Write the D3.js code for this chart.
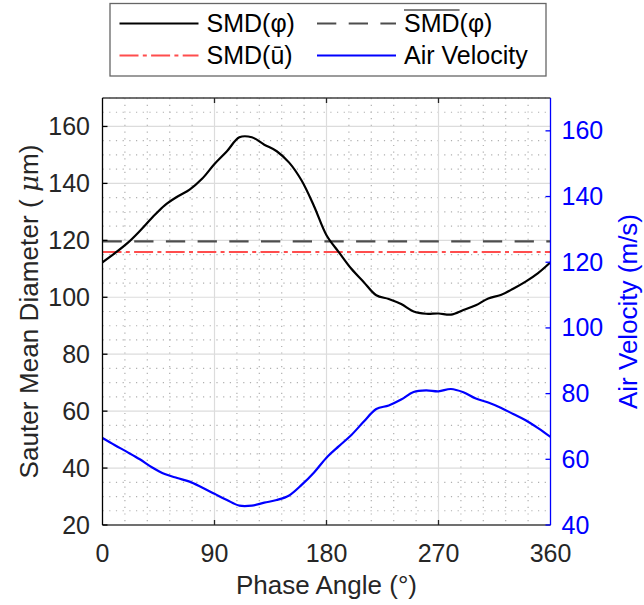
<!DOCTYPE html>
<html>
<head>
<meta charset="utf-8">
<script src="https://cdn.jsdelivr.net/npm/d3@7"></script>
<style>
  body { margin: 0; background: #fff; }
  text { font-family: "Liberation Sans", Arial, sans-serif; }
</style>
</head>
<body>
<svg id="chart" width="644" height="605"></svg>
<script>
// phase angle samples (deg)
var phase = [0,10,20,30,40,50,60,70,80,90,100,110,120,130,140,150,160,170,180,
  190,200,210,220,230,240,250,260,270,280,290,300,310,320,330,340,350,360]
// SMD(phi) in microns
var smd = [112.3,115.5,119,123.3,128,132.3,135.3,137.8,141.6,146.8,151.3,156.2,156.2,153.6,151.3,147.3,141,132,121.8,
  115.8,110,105.3,100.7,99.4,97.6,95,94.2,94.3,93.9,95.5,97.2,99.6,100.8,103,105.5,108.5,112.3]
// air velocity in m/s
var vel = [66.5,64.3,62.2,60,57.5,55.5,54.3,53.2,51.4,49.5,47.6,45.9,45.9,46.8,47.6,49,52.2,56,60.5,
  64,67.4,71.5,75.3,76.4,78.2,80.5,81,80.7,81.4,80.4,78.5,77.3,75.7,73.8,71.9,69.5,66.8]
var smdMean = 119.6
var smdUbar = 115.9

var xTicks = [0, 90, 180, 270, 360]
var yLeftTicks = [20, 40, 60, 80, 100, 120, 140, 160]
var yRightTicks = [40, 60, 80, 100, 120, 140, 160]

var legendItems = [
  {label: "SMD(φ)", color: "#000", dash: null, bar: false},
  {label: "SMD(φ)", color: "#4d4d4d", dash: "19.3,12.4", bar: true},
  {label: "SMD(ū)", color: "#ff4d4d", dash: "19,4.3,4,4.3", bar: false},
  {label: "Air Velocity", color: "#0000ff", dash: null, bar: false}
]

var L = 102.5, R = 550.5, T = 98, B = 525
var svg = d3.select("#chart")

var x = d3.scaleLinear().domain([0, 360]).range([L, R])
var yL = d3.scaleLinear().domain([20, 170]).range([B, T])
var yR = d3.scaleLinear().domain([40, 170]).range([B, T])

var g = svg.append("g")

// minor grid (dotted)
var xMinor = d3.range(0, 361, 18).filter(function(d) { return d % 90 !== 0 })
var yMinor = d3.range(20, 171, 5).filter(function(d) { return d % 20 !== 0 })
g.selectAll(".xminor").data(xMinor).enter().append("line")
  .attr("x1", d => x(d)).attr("x2", d => x(d)).attr("y1", T).attr("y2", B)
  .attr("stroke", "#b0b0b0").attr("stroke-width", 1.2).attr("stroke-dasharray", "1.2,5.5")
g.selectAll(".yminor").data(yMinor).enter().append("line")
  .attr("x1", L).attr("x2", R).attr("y1", d => yL(d)).attr("y2", d => yL(d))
  .attr("stroke", "#b0b0b0").attr("stroke-width", 1.2).attr("stroke-dasharray", "1.2,5.5")

// major grid
g.selectAll(".xmajor").data(xTicks.slice(1, -1)).enter().append("line")
  .attr("x1", d => x(d)).attr("x2", d => x(d)).attr("y1", T).attr("y2", B)
  .attr("stroke", "#dcdcdc").attr("stroke-width", 1.2)
g.selectAll(".ymajor").data(yLeftTicks.slice(1)).enter().append("line")
  .attr("x1", L).attr("x2", R).attr("y1", d => yL(d)).attr("y2", d => yL(d))
  .attr("stroke", "#dcdcdc").attr("stroke-width", 1.2)

svg.append("clipPath").attr("id", "clip").append("rect")
  .attr("x", L).attr("y", T).attr("width", R - L).attr("height", B - T)
var plot = svg.append("g").attr("clip-path", "url(#clip)")

// horizontal reference lines
plot.append("line").attr("x1", x(0)).attr("x2", x(360))
  .attr("y1", yL(smdMean)).attr("y2", yL(smdMean))
  .attr("stroke", legendItems[1].color).attr("stroke-width", 2.2).attr("stroke-dasharray", legendItems[1].dash)
plot.append("line").attr("x1", x(0)).attr("x2", x(360))
  .attr("y1", yL(smdUbar)).attr("y2", yL(smdUbar))
  .attr("stroke", legendItems[2].color).attr("stroke-width", 2.2).attr("stroke-dasharray", legendItems[2].dash)

var lineL = d3.line().x((d, i) => x(phase[i])).y(d => yL(d)).curve(d3.curveCatmullRom.alpha(0.5))
var lineR = d3.line().x((d, i) => x(phase[i])).y(d => yR(d)).curve(d3.curveCatmullRom.alpha(0.5))

plot.append("path").datum(smd).attr("d", lineL)
  .attr("fill", "none").attr("stroke", "#000").attr("stroke-width", 2.2)
plot.append("path").datum(vel).attr("d", lineR)
  .attr("fill", "none").attr("stroke", "#0000ff").attr("stroke-width", 2.2)

// axes
var ax = svg.append("g")
ax.append("line").attr("x1", L).attr("x2", R).attr("y1", T).attr("y2", T).attr("stroke", "#404040").attr("stroke-width", 1.3)
ax.append("line").attr("x1", L).attr("x2", R).attr("y1", B).attr("y2", B).attr("stroke", "#404040").attr("stroke-width", 1.3)
ax.append("line").attr("x1", L).attr("x2", L).attr("y1", T).attr("y2", B).attr("stroke", "#000").attr("stroke-width", 1.3)
ax.append("line").attr("x1", R).attr("x2", R).attr("y1", T).attr("y2", B).attr("stroke", "#0000ff").attr("stroke-width", 1.3)

xTicks.slice(1, -1).forEach(function(d) {
  ax.append("line").attr("x1", x(d)).attr("x2", x(d)).attr("y1", B).attr("y2", B - 5).attr("stroke", "#262626").attr("stroke-width", 1.3)
  ax.append("line").attr("x1", x(d)).attr("x2", x(d)).attr("y1", T).attr("y2", T + 5).attr("stroke", "#262626").attr("stroke-width", 1.3)
})
yLeftTicks.forEach(function(d) {
  ax.append("line").attr("x1", L).attr("x2", L + 5).attr("y1", yL(d)).attr("y2", yL(d)).attr("stroke", "#000").attr("stroke-width", 1.3)
})
yRightTicks.forEach(function(d) {
  ax.append("line").attr("x1", R).attr("x2", R - 5).attr("y1", yR(d)).attr("y2", yR(d)).attr("stroke", "#0000ff").attr("stroke-width", 1.3)
})

var fs = 25
ax.selectAll(".xl").data(xTicks).enter().append("text")
  .attr("x", d => x(d)).attr("y", B + 37).attr("text-anchor", "middle")
  .attr("font-size", fs).attr("fill", "#262626").text(d => d)
ax.selectAll(".yl").data(yLeftTicks).enter().append("text")
  .attr("x", L - 12.5).attr("y", d => yL(d) + 8.5).attr("text-anchor", "end")
  .attr("font-size", fs).attr("fill", "#262626").text(d => d)
ax.selectAll(".yr").data(yRightTicks).enter().append("text")
  .attr("x", R + 11).attr("y", d => yR(d) + 8.5).attr("text-anchor", "start")
  .attr("font-size", fs).attr("fill", "#0000ff").text(d => d)

ax.append("text").attr("x", (L + R) / 2).attr("y", 594).attr("text-anchor", "middle")
  .attr("font-size", 26).attr("fill", "#262626").text("Phase Angle (°)")
var yt = ax.append("text").attr("transform", "translate(38," + ((T + B) / 2) + ") rotate(-90)")
  .attr("text-anchor", "middle").attr("font-size", 26).attr("fill", "#262626")
  .attr("textLength", 334).attr("lengthAdjust", "spacing")
yt.append("tspan").text("Sauter Mean Diameter ( ")
yt.append("tspan").attr("font-style", "italic").attr("font-family", "DejaVu Serif, serif").text("μ")
yt.append("tspan").text("m)")
ax.append("text").attr("transform", "translate(636.5," + ((T + B) / 2) + ") rotate(-90)")
  .attr("text-anchor", "middle").attr("font-size", 26).attr("fill", "#0000ff").text("Air Velocity (m/s)")

// legend
var leg = svg.append("g")
leg.append("rect").attr("x", 110).attr("y", 3.5).attr("width", 436).attr("height", 72.5)
  .attr("fill", "#fff").attr("stroke", "#666").attr("stroke-width", 1.3)
var cols = [119.5, 317], rows = [23.5, 55.5]
legendItems.forEach(function(it, i) {
  var cx = cols[i % 2], cy = rows[Math.floor(i / 2)]
  leg.append("line").attr("x1", cx).attr("x2", cx + 79).attr("y1", cy).attr("y2", cy)
    .attr("stroke", it.color).attr("stroke-width", 2.2).attr("stroke-dasharray", it.dash)
  var t = leg.append("text").attr("x", cx + 87).attr("y", cy + 8).attr("font-size", 25).attr("fill", "#000")
  if (it.bar) {
    var s = t.append("tspan").text("SMD")
    t.append("tspan").text(it.label.slice(3))
    var w = s.node().getComputedTextLength()
    leg.append("line").attr("x1", cx + 87).attr("x2", cx + 87 + w).attr("y1", 10).attr("y2", 10)
      .attr("stroke", "#000").attr("stroke-width", 1.2)
  } else {
    t.text(it.label)
  }
})
</script>
</body>
</html>
